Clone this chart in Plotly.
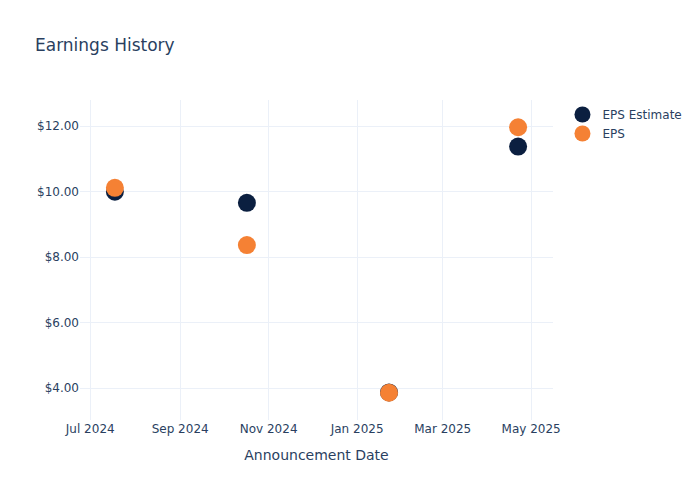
import plotly.graph_objects as go

dates = ["2024-07-18", "2024-10-17", "2025-01-23", "2025-04-22"]
eps_estimate = [10.00, 9.66, 3.87, 11.38]
eps_actual = [10.12, 8.37, 3.86, 11.97]

fig = go.Figure()

fig.add_trace(go.Scatter(x=dates, y=eps_estimate, name="EPS Estimate", mode="markers",
                         marker=dict(color="#0B1F40", size=18)))
fig.add_trace(go.Scatter(x=dates, y=eps_actual, name="EPS", mode="markers",
                         marker=dict(color="#F58134", size=18)))

# page body has an 8px margin, so size/margins are shifted to land like the original
fig.update_layout(
    title=dict(text="Earnings History", x=27 / 684, y=1 - 37 / 484, yanchor="middle"),
    template="plotly_white",
    width=684,
    height=484,
    margin=dict(l=72, r=139, t=92, b=72, autoexpand=False),
    font=dict(family="DejaVu Sans"),
    xaxis=dict(title="Announcement Date"),
    yaxis=dict(tickformat="$.2f"),
)

fig.write_html("out.html")
